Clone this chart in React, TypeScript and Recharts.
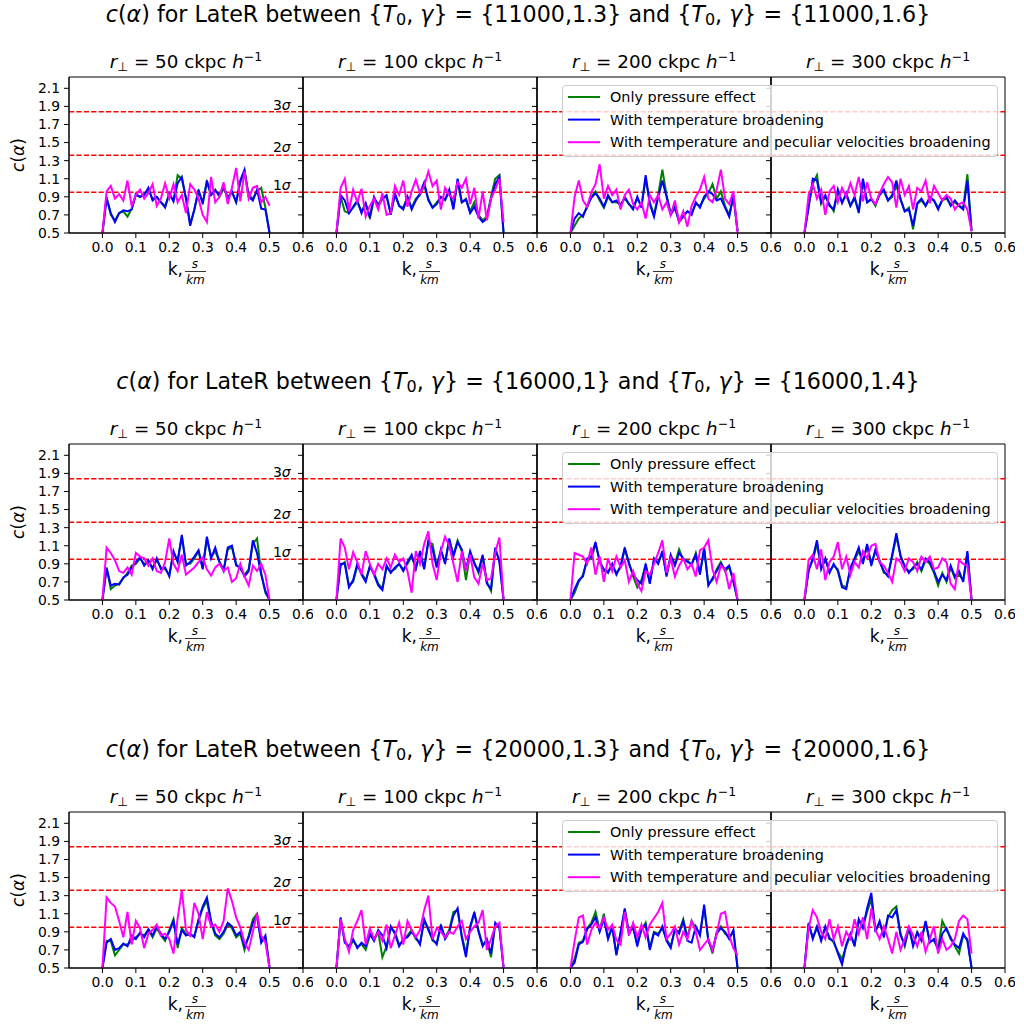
import React from "react";
import { LineChart, Line, XAxis, YAxis, ReferenceLine, ReferenceArea, ReferenceDot } from "recharts";

// k grid, s/km
const K = [
  0, 0.0125, 0.025, 0.0375, 0.05, 0.0625, 0.075, 0.0875, 0.1, 0.1125, 0.125, 0.1375, 0.15, 0.1625,
  0.175, 0.1875, 0.2, 0.2125, 0.225, 0.2375, 0.25, 0.2625, 0.275, 0.2875, 0.3, 0.3125, 0.325, 0.3375,
  0.35, 0.3625, 0.375, 0.3875, 0.4, 0.4125, 0.425, 0.4375, 0.45, 0.4625, 0.475, 0.4875, 0.5,
];

const X_TICKS = [0, 0.1, 0.2, 0.3, 0.4, 0.5, 0.6];
const Y_TICKS = [0.5, 0.7, 0.9, 1.1, 1.3, 1.5, 1.7, 1.9, 2.1];
const SIGMA_LEVELS = [0.95, 1.36, 1.84];
const SIGMA_NAMES = ["1", "2", "3"];
const SIGMA_TEXT_Y = [0.98, 1.4, 1.855];
const R_PERP = [50, 100, 200, 300];
const SERIES_NAMES = [
  "Only pressure effect",
  "With temperature broadening",
  "With temperature and peculiar velocities broadening",
];
const SERIES_COLORS = ["#008000", "#0000ff", "#ff00ff"];

// ---- {T0,gamma} = {11000,1.3} vs {11000,1.6}
const pressure_11000_r50 = [0.5, 0.90, 0.70, 0.64, 0.72, 0.74, 0.68, 0.77, 0.92, 0.90, 0.93, 0.98, 0.88, 0.90, 0.84, 0.80, 0.93, 0.86, 1.14, 1.10, 0.88, 0.60, 0.76, 0.96, 0.84, 1.06, 0.92, 0.98, 0.90, 0.99, 0.90, 0.95, 0.84, 1.06, 1.18, 0.92, 0.88, 0.96, 1.0, 0.78, 0.5];
const thermal_11000_r50 = [0.5, 0.88, 0.72, 0.62, 0.72, 0.75, 0.74, 0.76, 0.93, 0.90, 0.92, 1.0, 0.86, 0.90, 0.84, 0.78, 0.94, 0.85, 1.05, 1.12, 0.88, 0.58, 0.76, 0.98, 0.82, 1.08, 0.92, 0.97, 0.92, 1.02, 0.88, 0.96, 0.84, 1.08, 1.2, 0.90, 0.86, 0.98, 0.77, 0.76, 0.5];
const peculiar_11000_r50 = [0.5, 0.96, 1.02, 0.88, 0.93, 0.86, 1.08, 0.80, 0.92, 0.98, 0.88, 0.94, 1.04, 0.80, 0.88, 1.05, 0.88, 1.04, 0.84, 0.92, 0.72, 1.04, 0.98, 0.88, 0.70, 0.62, 1.12, 0.84, 0.90, 1.06, 0.82, 1.0, 1.22, 0.85, 1.18, 0.88, 1.0, 1.02, 0.84, 0.90, 0.80];

const pressure_11000_r100 = [0.5, 0.90, 0.74, 0.72, 0.78, 0.84, 0.74, 0.82, 0.66, 0.88, 0.82, 0.88, 0.90, 0.72, 0.92, 0.80, 0.78, 0.90, 0.78, 0.88, 0.92, 1.02, 0.88, 0.78, 0.84, 0.90, 0.86, 0.96, 0.78, 1.08, 0.84, 0.88, 0.74, 0.84, 0.70, 0.64, 0.68, 0.90, 1.10, 1.14, 0.5];
const thermal_11000_r100 = [0.5, 0.92, 0.86, 0.72, 0.79, 0.86, 0.72, 0.83, 0.68, 0.90, 0.80, 0.88, 0.92, 0.70, 0.94, 0.80, 0.76, 0.90, 0.76, 0.86, 0.94, 1.06, 0.86, 0.78, 0.82, 0.90, 0.87, 0.98, 0.76, 1.10, 0.84, 0.87, 0.72, 0.79, 0.68, 0.62, 0.66, 0.88, 1.04, 1.12, 0.5];
const peculiar_11000_r100 = [0.5, 1.0, 1.1, 0.74, 0.98, 0.84, 0.99, 0.68, 0.80, 0.88, 0.76, 0.94, 0.70, 0.72, 1.02, 0.92, 1.08, 0.79, 0.96, 1.09, 0.94, 1.02, 1.18, 1.02, 1.08, 0.76, 1.0, 0.92, 0.88, 1.06, 1.0, 1.10, 0.82, 1.0, 0.66, 0.96, 0.64, 0.88, 0.98, 1.10, 0.62];

const pressure_11000_r200 = [0.5, 0.58, 0.66, 0.70, 0.78, 0.90, 0.96, 0.86, 0.78, 0.90, 0.84, 0.84, 0.82, 0.88, 0.82, 0.78, 0.88, 0.80, 1.10, 0.84, 0.70, 0.92, 1.20, 0.92, 0.72, 0.80, 0.64, 0.70, 0.74, 0.72, 0.82, 0.80, 0.88, 0.94, 1.04, 0.88, 0.96, 0.80, 0.70, 0.90, 0.52];
const thermal_11000_r200 = [0.5, 0.66, 0.72, 0.68, 0.80, 0.89, 0.94, 0.88, 0.79, 0.92, 0.84, 0.86, 0.80, 0.90, 0.82, 0.76, 0.90, 0.78, 1.14, 0.82, 0.68, 0.90, 1.08, 0.90, 0.70, 0.78, 0.62, 0.68, 0.74, 0.70, 0.84, 0.78, 0.90, 0.96, 0.93, 0.86, 0.88, 0.78, 0.68, 0.92, 0.52];
const peculiar_11000_r200 = [0.5, 0.90, 1.08, 0.86, 0.79, 0.95, 1.04, 1.26, 0.88, 1.02, 0.92, 0.98, 0.76, 0.92, 0.98, 0.82, 0.76, 0.84, 0.66, 0.92, 0.84, 0.92, 0.76, 0.84, 0.70, 0.86, 0.62, 0.74, 0.57, 0.80, 0.90, 0.98, 1.12, 0.88, 0.84, 0.98, 1.20, 0.88, 0.82, 0.96, 0.50];

const pressure_11000_r300 = [0.5, 0.80, 1.04, 1.14, 0.82, 0.90, 0.82, 0.74, 0.96, 0.84, 0.92, 0.80, 0.88, 0.74, 1.08, 0.84, 0.88, 0.80, 0.94, 0.96, 0.86, 0.90, 1.02, 0.88, 0.74, 0.78, 0.54, 0.82, 0.86, 0.80, 0.88, 0.86, 0.78, 0.86, 0.88, 0.82, 0.84, 0.80, 0.78, 1.15, 0.52];
const thermal_11000_r300 = [0.5, 0.78, 1.10, 1.08, 0.84, 0.92, 0.80, 0.76, 0.98, 0.83, 0.94, 0.80, 0.90, 0.72, 1.10, 0.84, 0.87, 0.82, 0.92, 0.98, 0.86, 0.92, 1.08, 0.87, 0.74, 0.76, 0.58, 0.83, 0.88, 0.80, 0.90, 0.86, 0.76, 0.87, 0.90, 0.80, 0.86, 0.80, 0.76, 1.08, 0.52];
const peculiar_11000_r300 = [0.5, 0.92, 1.04, 0.88, 0.98, 0.70, 0.96, 1.02, 0.84, 1.0, 0.90, 1.05, 0.92, 1.12, 0.85, 1.06, 0.88, 0.82, 0.94, 1.04, 1.12, 1.06, 0.78, 1.10, 0.92, 1.02, 0.76, 1.0, 0.96, 1.08, 0.83, 1.02, 0.94, 0.86, 0.92, 0.88, 0.76, 0.82, 0.84, 0.76, 0.52];

// ---- {T0,gamma} = {16000,1} vs {16000,1.4}
const pressure_16000_r50 = [0.5, 0.86, 0.62, 0.66, 0.68, 0.74, 0.80, 0.88, 0.90, 0.96, 0.90, 0.92, 0.86, 0.94, 0.86, 0.84, 0.78, 1.02, 0.94, 1.20, 0.90, 0.90, 0.96, 1.04, 0.86, 1.18, 0.98, 1.04, 0.92, 0.84, 1.06, 1.08, 0.90, 0.84, 0.78, 0.84, 1.12, 1.18, 0.80, 0.58, 0.5];
const thermal_16000_r50 = [0.5, 0.85, 0.66, 0.68, 0.67, 0.75, 0.78, 0.86, 0.92, 0.97, 0.88, 0.94, 0.84, 0.96, 0.84, 0.86, 0.76, 1.04, 0.92, 1.22, 0.88, 0.92, 0.98, 1.05, 0.84, 1.20, 0.96, 1.08, 0.92, 0.82, 1.08, 1.10, 0.88, 0.86, 0.76, 0.82, 1.16, 1.02, 0.78, 0.60, 0.5];
const peculiar_16000_r50 = [0.5, 1.08, 1.02, 0.94, 0.82, 0.80, 0.86, 0.78, 1.02, 0.98, 0.96, 0.88, 0.96, 0.82, 0.80, 0.92, 1.18, 0.90, 0.82, 1.0, 0.78, 0.82, 0.86, 0.92, 0.97, 0.84, 0.77, 0.86, 0.90, 0.82, 0.86, 0.70, 0.74, 0.90, 0.76, 0.66, 0.88, 0.82, 0.90, 0.78, 0.50];

const pressure_16000_r100 = [0.5, 0.88, 0.92, 0.66, 0.70, 0.88, 0.80, 0.72, 0.86, 0.80, 0.68, 0.63, 0.86, 0.82, 0.84, 0.90, 0.84, 0.90, 0.98, 0.86, 1.02, 0.86, 1.14, 1.12, 0.88, 1.04, 0.92, 1.16, 1.0, 1.16, 1.04, 0.72, 1.02, 0.92, 0.80, 0.98, 0.70, 0.60, 1.06, 0.94, 0.5];
const thermal_16000_r100 = [0.5, 0.90, 0.90, 0.64, 0.72, 0.90, 0.78, 0.70, 0.88, 0.78, 0.66, 0.61, 0.88, 0.80, 0.86, 0.90, 0.82, 0.92, 1.0, 0.84, 1.04, 0.84, 1.16, 1.06, 0.86, 1.06, 0.90, 1.18, 0.98, 1.14, 1.06, 0.84, 1.04, 0.90, 0.82, 1.0, 0.68, 0.62, 1.08, 0.92, 0.5];
const peculiar_16000_r100 = [0.5, 1.18, 1.08, 0.84, 1.03, 0.92, 0.78, 1.04, 0.90, 0.78, 0.90, 0.84, 0.96, 0.86, 1.0, 0.92, 0.96, 0.82, 0.58, 1.04, 0.90, 1.12, 1.26, 0.90, 0.72, 1.04, 1.20, 1.10, 0.90, 0.70, 1.04, 0.82, 1.0, 0.75, 0.68, 0.90, 0.72, 0.74, 1.02, 1.19, 0.5];

const pressure_16000_r200 = [0.5, 0.58, 0.70, 0.78, 0.94, 0.96, 1.12, 0.94, 0.82, 0.82, 0.88, 0.80, 0.86, 1.06, 0.92, 0.76, 0.64, 0.72, 0.88, 0.70, 0.94, 0.92, 1.02, 0.78, 0.98, 0.90, 1.06, 0.94, 0.94, 0.88, 1.02, 0.80, 1.06, 0.68, 0.72, 0.84, 0.92, 0.82, 0.86, 0.72, 0.5];
const thermal_16000_r200 = [0.5, 0.62, 0.72, 0.76, 0.96, 0.98, 1.14, 0.92, 0.84, 0.80, 0.90, 0.78, 0.88, 1.08, 0.90, 0.78, 0.72, 0.68, 0.90, 0.68, 0.96, 0.90, 1.04, 0.76, 1.0, 0.88, 1.02, 0.96, 0.92, 0.90, 1.0, 0.78, 1.08, 0.66, 0.74, 0.82, 0.90, 0.84, 0.88, 0.70, 0.5];
const peculiar_16000_r200 = [0.5, 1.02, 1.0, 0.98, 0.90, 1.08, 0.78, 0.98, 0.70, 0.96, 0.82, 0.98, 0.86, 0.94, 0.70, 0.82, 0.68, 0.60, 0.82, 0.78, 0.90, 1.02, 1.16, 0.80, 0.96, 0.76, 0.88, 0.96, 0.84, 0.90, 0.76, 1.05, 1.08, 1.16, 0.84, 0.70, 0.88, 0.84, 0.62, 0.80, 0.5];

const pressure_16000_r300 = [0.5, 0.84, 0.94, 1.12, 0.86, 0.94, 0.82, 0.88, 0.84, 0.66, 0.64, 0.84, 0.94, 1.04, 0.92, 1.10, 0.90, 1.04, 0.94, 0.80, 0.78, 0.98, 1.20, 1.0, 0.86, 0.82, 0.84, 0.92, 0.82, 0.94, 0.90, 0.80, 0.66, 0.80, 0.70, 0.86, 0.74, 0.78, 0.72, 1.02, 0.5];
const thermal_16000_r300 = [0.5, 0.82, 0.96, 1.16, 0.84, 0.96, 0.80, 0.90, 0.82, 0.64, 0.62, 0.86, 0.96, 1.08, 0.90, 1.12, 0.88, 1.06, 0.92, 0.82, 0.76, 1.0, 1.24, 0.98, 0.88, 0.80, 0.86, 0.90, 0.84, 0.96, 0.92, 0.82, 0.70, 0.78, 0.72, 0.88, 0.76, 0.82, 0.70, 1.04, 0.5];
const peculiar_16000_r300 = [0.5, 0.94, 1.0, 0.84, 1.06, 0.72, 0.92, 0.98, 1.14, 0.84, 0.98, 0.78, 0.92, 0.86, 1.04, 0.96, 1.10, 1.12, 0.92, 0.88, 0.80, 0.70, 0.96, 0.92, 0.82, 0.96, 0.92, 0.82, 0.98, 0.92, 0.98, 0.84, 0.86, 0.96, 0.92, 0.68, 0.62, 0.94, 0.90, 0.88, 0.5];

// ---- {T0,gamma} = {20000,1.3} vs {20000,1.6}
const pressure_20000_r50 = [0.5, 0.80, 0.80, 0.64, 0.70, 0.76, 0.76, 0.80, 0.84, 0.88, 0.86, 0.92, 0.84, 0.94, 0.86, 0.80, 0.92, 1.04, 0.72, 0.94, 0.88, 0.86, 0.86, 1.02, 1.16, 1.24, 1.0, 0.86, 0.82, 0.88, 0.98, 0.94, 0.84, 0.88, 0.70, 0.86, 1.04, 1.10, 0.80, 0.84, 0.5];
const thermal_20000_r50 = [0.5, 0.78, 0.82, 0.70, 0.72, 0.77, 0.74, 0.86, 0.82, 0.89, 0.84, 0.93, 0.86, 0.96, 0.88, 0.82, 0.90, 1.02, 0.76, 0.92, 0.86, 0.88, 0.84, 1.04, 1.18, 1.28, 1.02, 0.88, 0.84, 0.90, 1.0, 0.96, 0.86, 0.90, 0.74, 0.84, 1.0, 1.08, 0.78, 0.86, 0.5];
const peculiar_20000_r50 = [0.5, 1.28, 1.22, 1.18, 1.02, 0.84, 1.12, 0.76, 1.02, 0.94, 0.72, 0.88, 0.92, 0.98, 0.86, 0.88, 0.82, 0.66, 1.05, 1.36, 0.92, 0.86, 1.22, 1.10, 0.82, 1.12, 0.96, 0.98, 0.90, 1.02, 1.38, 1.24, 1.06, 0.95, 0.78, 0.70, 0.90, 1.10, 0.86, 0.78, 0.5];

const pressure_20000_r100 = [0.5, 1.04, 0.80, 0.72, 0.80, 0.74, 0.76, 0.70, 0.86, 0.82, 0.90, 0.62, 0.74, 0.94, 0.90, 0.76, 0.80, 0.86, 0.92, 0.82, 0.78, 1.02, 0.94, 0.80, 0.78, 0.96, 0.84, 0.92, 1.12, 1.14, 0.86, 0.66, 0.94, 1.10, 0.92, 0.76, 0.80, 0.62, 0.98, 0.96, 0.5];
const thermal_20000_r100 = [0.5, 1.06, 0.78, 0.74, 0.82, 0.72, 0.78, 0.74, 0.88, 0.80, 0.92, 0.86, 0.72, 0.96, 0.88, 0.74, 0.82, 0.84, 0.90, 0.84, 0.76, 1.04, 0.92, 0.82, 0.76, 0.98, 0.82, 0.90, 1.08, 1.16, 0.84, 0.62, 0.96, 1.12, 0.90, 0.74, 0.82, 0.66, 1.0, 0.94, 0.5];
const peculiar_20000_r100 = [0.5, 1.04, 0.82, 0.68, 0.92, 1.02, 1.14, 0.76, 0.94, 0.82, 0.90, 0.80, 0.98, 0.72, 0.86, 1.0, 0.76, 1.02, 0.92, 0.84, 0.92, 1.14, 1.30, 0.82, 0.94, 0.90, 0.84, 0.90, 0.88, 0.96, 1.02, 0.82, 0.90, 0.96, 1.0, 1.14, 0.70, 0.82, 0.96, 1.0, 0.5];

const pressure_20000_r200 = [0.5, 0.60, 0.78, 0.80, 0.94, 1.0, 1.12, 0.92, 1.10, 0.84, 0.94, 0.66, 0.88, 1.14, 0.90, 0.94, 0.76, 0.92, 1.0, 0.72, 0.90, 0.88, 0.94, 0.82, 0.74, 0.92, 0.90, 1.04, 0.84, 1.02, 0.94, 0.88, 1.16, 0.82, 0.66, 0.90, 0.96, 0.88, 0.84, 0.90, 0.5];
const thermal_20000_r200 = [0.5, 0.56, 0.76, 0.79, 0.93, 0.98, 1.06, 0.90, 1.04, 0.82, 0.96, 0.64, 0.90, 1.16, 0.88, 0.96, 0.74, 0.94, 0.98, 0.70, 0.89, 0.86, 0.96, 0.80, 0.72, 0.94, 0.88, 1.02, 0.80, 0.78, 0.96, 0.86, 1.20, 0.80, 0.70, 0.88, 0.94, 0.90, 0.82, 0.92, 0.5];
const peculiar_20000_r200 = [0.5, 0.80, 1.06, 1.08, 0.76, 0.92, 1.0, 0.94, 1.06, 0.92, 0.98, 0.81, 0.76, 1.12, 0.86, 1.0, 0.84, 0.98, 0.84, 0.98, 1.05, 1.12, 1.22, 0.82, 0.88, 0.96, 0.76, 0.90, 0.82, 1.02, 0.90, 0.70, 0.76, 0.82, 0.70, 0.88, 1.10, 1.12, 0.86, 0.72, 0.64];

const pressure_20000_r300 = [0.5, 0.98, 0.84, 0.94, 0.82, 0.94, 0.84, 0.78, 0.68, 0.60, 0.74, 0.86, 0.76, 1.02, 0.96, 1.12, 1.26, 0.92, 1.0, 0.86, 1.06, 1.14, 1.18, 0.88, 0.74, 0.94, 0.76, 0.90, 0.82, 1.0, 0.80, 0.80, 0.72, 1.02, 0.92, 0.84, 0.74, 0.66, 0.86, 0.82, 0.5];
const thermal_20000_r300 = [0.5, 1.0, 0.82, 0.96, 0.80, 0.96, 0.82, 0.80, 0.66, 0.54, 0.76, 0.88, 0.74, 1.04, 0.94, 1.16, 1.33, 0.90, 1.02, 0.84, 1.08, 1.06, 1.14, 0.86, 0.76, 0.96, 0.74, 0.89, 0.80, 1.02, 0.78, 0.82, 0.70, 0.88, 0.94, 0.82, 0.76, 0.72, 0.88, 0.80, 0.5];
const peculiar_20000_r300 = [0.5, 0.94, 1.14, 1.06, 0.90, 0.82, 1.04, 0.82, 0.96, 0.74, 0.90, 0.82, 1.04, 0.88, 1.06, 0.82, 1.16, 0.92, 0.82, 0.96, 0.82, 0.66, 0.90, 0.70, 0.82, 0.96, 0.86, 0.74, 0.90, 0.68, 0.82, 0.96, 0.66, 0.82, 0.70, 0.74, 0.82, 1.02, 1.08, 1.04, 0.66];

const ROWS = [
  {
    pair: ["11000,1.3", "11000,1.6"],
    panels: [
      [pressure_11000_r50, thermal_11000_r50, peculiar_11000_r50],
      [pressure_11000_r100, thermal_11000_r100, peculiar_11000_r100],
      [pressure_11000_r200, thermal_11000_r200, peculiar_11000_r200],
      [pressure_11000_r300, thermal_11000_r300, peculiar_11000_r300],
    ],
  },
  {
    pair: ["16000,1", "16000,1.4"],
    panels: [
      [pressure_16000_r50, thermal_16000_r50, peculiar_16000_r50],
      [pressure_16000_r100, thermal_16000_r100, peculiar_16000_r100],
      [pressure_16000_r200, thermal_16000_r200, peculiar_16000_r200],
      [pressure_16000_r300, thermal_16000_r300, peculiar_16000_r300],
    ],
  },
  {
    pair: ["20000,1.3", "20000,1.6"],
    panels: [
      [pressure_20000_r50, thermal_20000_r50, peculiar_20000_r50],
      [pressure_20000_r100, thermal_20000_r100, peculiar_20000_r100],
      [pressure_20000_r200, thermal_20000_r200, peculiar_20000_r200],
      [pressure_20000_r300, thermal_20000_r300, peculiar_20000_r300],
    ],
  },
];

// layout (px)
const FONT = "'DejaVu Sans', sans-serif";
const PANEL_W = 234;
const PANEL_H = 156;
const COL_X = [69, 303, 537, 771];
const ROW_Y = [77, 444, 812];
const PAD_L = 70;
const PAD_T = 10;
const PAD_R = 10;
const PAD_B = 60;

function SigmaTag({ viewBox, n }: any) {
  if (!viewBox) return null;
  return (
    <text x={viewBox.x} y={viewBox.y} fontSize={14} fill="#000" fontFamily={FONT}>
      {n}
      <tspan fontStyle="italic">σ</tspan>
    </text>
  );
}

function Panel({ row, col, series }: { row: number; col: number; series: number[][] }) {
  const data = K.map((k, i) => ({ k, g: series[0][i], b: series[1][i], m: series[2][i] }));
  const first = col === 0;
  const tickStyle = { fill: "#000", fontSize: 13.9, fontFamily: FONT };
  return (
    <div style={{ position: "absolute", left: COL_X[col] - PAD_L, top: ROW_Y[row] - PAD_T }}>
      <LineChart
        width={PAD_L + PANEL_W + PAD_R}
        height={PAD_T + PANEL_H + PAD_B}
        data={data}
        margin={{ top: PAD_T, right: PAD_R, bottom: 0, left: 0 }}
      >
        <XAxis
          type="number"
          dataKey="k"
          domain={[-0.1, 0.6]}
          ticks={X_TICKS}
          interval={0}
          allowDataOverflow
          height={PAD_B}
          tickSize={5}
          tickMargin={4}
          stroke="#000"
          tick={tickStyle}
          tickFormatter={(v: number) => v.toFixed(1)}
        />
        <YAxis
          type="number"
          domain={[0.5, 2.225]}
          ticks={Y_TICKS}
          interval={0}
          allowDataOverflow
          width={PAD_L}
          tickSize={5}
          tickMargin={4}
          stroke="#000"
          tick={tickStyle}
          tickFormatter={first ? (v: number) => v.toFixed(1) : () => ""}
        />
        <ReferenceArea x1={-0.1} x2={0.6} y1={0.5} y2={2.225} fill="none" stroke="#000" strokeWidth={1} />
        {SIGMA_LEVELS.map((lvl) => (
          <ReferenceLine key={lvl} y={lvl} stroke="#ff0000" strokeWidth={1.4} strokeDasharray="5.2 2.2" />
        ))}
        <Line type="linear" dataKey="g" stroke={SERIES_COLORS[0]} strokeWidth={2} dot={false} isAnimationActive={false} />
        <Line type="linear" dataKey="b" stroke={SERIES_COLORS[1]} strokeWidth={2} dot={false} isAnimationActive={false} />
        <Line type="linear" dataKey="m" stroke={SERIES_COLORS[2]} strokeWidth={2} dot={false} isAnimationActive={false} />
        {first &&
          SIGMA_NAMES.map((n, i) => (
            <ReferenceDot
              key={n}
              x={0.51}
              y={SIGMA_TEXT_Y[i]}
              r={0}
              fill="none"
              stroke="none"
              label={<SigmaTag n={n} />}
            />
          ))}
      </LineChart>
    </div>
  );
}

function Legend({ top }: { top: number }) {
  return (
    <svg width={436} height={72} style={{ position: "absolute", left: 562, top }}>
      <rect x={0.5} y={0.5} width={435} height={71} rx={3} fill="#ffffff" fillOpacity={0.8} stroke="#cccccc" />
      {SERIES_NAMES.map((name, i) => (
        <g key={name}>
          <line x1={6} x2={38} y1={12 + i * 22.6} y2={12 + i * 22.6} stroke={SERIES_COLORS[i]} strokeWidth={2} />
          <text x={48} y={17 + i * 22.6} fontSize={14.4} fill="#000" fontFamily={FONT}>
            {name}
          </text>
        </g>
      ))}
    </svg>
  );
}

function Titles() {
  return (
    <svg width={1024} height={1027} style={{ position: "absolute", left: 0, top: 0 }}>
      {ROWS.map((r, ri) => {
        const top = ROW_Y[ri];
        const bottom = top + PANEL_H;
        return (
          <g key={ri} fontFamily={FONT} fill="#000">
            <text x={518} y={top - 55} fontSize={22.2} textAnchor="middle">
              <tspan fontStyle="italic">c</tspan>(<tspan fontStyle="italic">α</tspan>) for LateR between {"{"}
              <tspan fontStyle="italic">T</tspan>
              <tspan fontSize={16} dy={3}>0</tspan>
              <tspan dy={-3}>, </tspan>
              <tspan fontStyle="italic">γ</tspan>
              {"} = {" + r.pair[0] + "} and {"}
              <tspan fontStyle="italic">T</tspan>
              <tspan fontSize={16} dy={3}>0</tspan>
              <tspan dy={-3}>, </tspan>
              <tspan fontStyle="italic">γ</tspan>
              {"} = {" + r.pair[1] + "}"}
            </text>
            {R_PERP.map((rp, ci) => {
              const cx = COL_X[ci] + PANEL_W / 2;
              return (
                <g key={rp}>
                  <text x={cx} y={top - 9} fontSize={18.3} textAnchor="middle">
                    <tspan fontStyle="italic">r</tspan>
                    <tspan fontSize={12.5} dy={3}>⊥</tspan>
                    <tspan dy={-3}>{" = " + rp + " ckpc "}</tspan>
                    <tspan fontStyle="italic">h</tspan>
                    <tspan fontSize={12.5} dy={-7}>−1</tspan>
                  </text>
                  <text x={cx - 3} y={bottom + 42} fontSize={17} textAnchor="end">
                    k,
                  </text>
                  <text x={cx + 9} y={bottom + 35} fontSize={12} fontStyle="italic" textAnchor="middle">
                    s
                  </text>
                  <line x1={cx - 1} x2={cx + 20} y1={bottom + 38.5} y2={bottom + 38.5} stroke="#000" strokeWidth={0.8} />
                  <text x={cx + 9.5} y={bottom + 51} fontSize={12} fontStyle="italic" textAnchor="middle">
                    km
                  </text>
                </g>
              );
            })}
            <text
              x={24}
              y={top + PANEL_H / 2}
              fontSize={17}
              textAnchor="middle"
              transform={`rotate(-90 24 ${top + PANEL_H / 2})`}
            >
              <tspan fontStyle="italic">c</tspan>(<tspan fontStyle="italic">α</tspan>)
            </text>
          </g>
        );
      })}
    </svg>
  );
}

export default function App() {
  return (
    <div
      style={{
        position: "absolute",
        left: 0,
        top: 0,
        width: 1024,
        height: 1027,
        background: "#fff",
        fontFamily: FONT,
        overflow: "hidden",
      }}
    >
      {ROWS.map((r, ri) =>
        r.panels.map((series, ci) => <Panel key={`${ri}-${ci}`} row={ri} col={ci} series={series} />)
      )}
      <Titles />
      {ROW_Y.map((y) => (
        <Legend key={y} top={y + 8} />
      ))}
    </div>
  );
}
